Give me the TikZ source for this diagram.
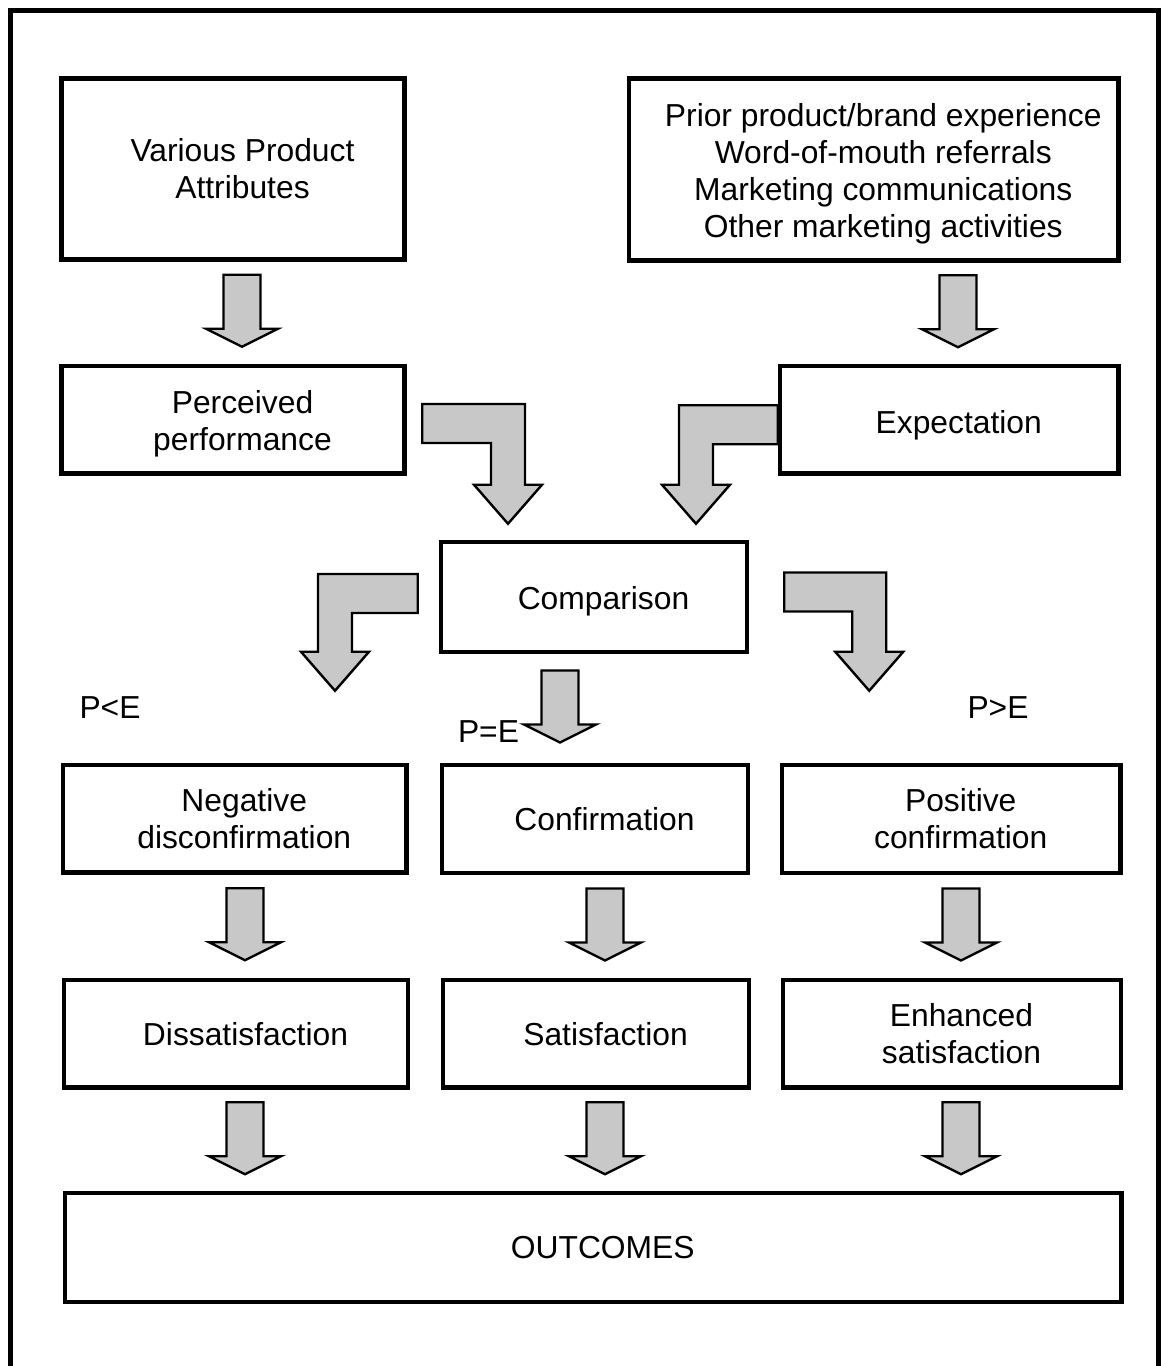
\documentclass[tikz,border=0pt]{standalone}
\usepackage{fontspec}
\setmainfont{Liberation Sans}
\usetikzlibrary{calc}

\definecolor{arrowgray}{RGB}{200,200,200}

\tikzset{
  box/.style={draw, rectangle, line width=4.5pt, inner sep=0pt},
  boxtext/.style={align=center, xshift=9.5pt, inner sep=0pt,
                  font=\fontsize{31.8}{37}\selectfont},
  % text whose last line has descenders sits a little lower
  lowtext/.style={boxtext, yshift=-4pt},
  blockarrow/.style={draw, fill=arrowgray, line width=2.4pt, line join=miter},
  relation/.style={anchor=base, inner sep=0pt, font=\fontsize{31.8}{37}\selectfont},
  frame/.style={line width=5pt}
}

% straight block arrow centred in the gap between two stacked boxes
% #1 upper node, #2 lower node, #3 x position of the shaft
\newcommand\flowdown[3]{%
  \draw[blockarrow] let \p1=(#1.south), \p2=(#2.north),
        \n1={0.5*\y1+0.5*\y2+2} in
    (#3-18.5,\n1+36) -- (#3+18.5,\n1+36) -- (#3+18.5,\n1-18) --
    (#3+36,\n1-18) -- (#3,\n1-36) -- (#3-36,\n1-18) --
    (#3-18.5,\n1-18) -- cycle;}

% L-shaped block arrow: horizontal bar from the tail, then down to the tip
% #1 tail point, #2 tip point, #3 = 1 if the bar runs rightwards, -1 if leftwards
\newcommand\bentarrow[3]{%
  \draw[blockarrow] let \p1=(#1), \p2=(#2) in
    (\x1,{\y1+19.5}) -- ({\x2+(#3)*17},{\y1+19.5}) --
    ({\x2+(#3)*17},{\y2+39}) -- ({\x2+(#3)*34},{\y2+39}) --
    (\x2,\y2) --
    ({\x2-(#3)*34},{\y2+39}) -- ({\x2-(#3)*17},{\y2+39}) --
    ({\x2-(#3)*17},{\y1-19.5}) -- (\x1,{\y1-19.5}) -- cycle;}

\begin{document}
\begin{tikzpicture}[x=1pt,y=1pt]
\useasboundingbox (0,0) rectangle (1162,-1366);

% outer frame (open at the foot of the page)
\draw[frame] (10,-1380) -- (10,-10) -- (1158,-10) -- (1158,-1380);

% boxes
\node[box, minimum width=343pt, minimum height=181pt,
      label={[boxtext]center:{Various Product\\Attributes}}] (attr) at (233,-169) {};
\node[box, minimum width=489.5pt, minimum height=182pt,
      label={[lowtext]center:{Prior product/brand experience\\Word-of-mouth referrals\\Marketing communications\\Other marketing activities}}] (prior) at (873.75,-169.5) {};
\node[box, minimum width=343pt, minimum height=107.5pt,
      label={[lowtext]center:{Perceived\\performance}}] (perc) at (233,-419.75) {};
\node[box, minimum width=338.5pt, minimum height=107.5pt,
      label={[lowtext, yshift=-1.5pt]center:{Expectation}}] (expect) at (949.25,-419.75) {};
\node[box, minimum width=306pt, minimum height=110pt,
      label={[lowtext]center:{Comparison}}] (comp) at (594,-597) {};
\node[box, minimum width=343.5pt, minimum height=107.5pt,
      label={[boxtext]center:{Negative\\disconfirmation}}] (neg) at (234.75,-818.75) {};
\node[box, minimum width=306pt, minimum height=108pt,
      label={[boxtext]center:{Confirmation}}] (conf) at (595,-819) {};
\node[box, minimum width=338.5pt, minimum height=108pt,
      label={[boxtext]center:{Positive\\confirmation}}] (pos) at (951.25,-819) {};
\node[box, minimum width=344pt, minimum height=107.5pt,
      label={[boxtext]center:{Dissatisfaction}}] (dis) at (236,-1033.75) {};
\node[box, minimum width=306pt, minimum height=107.5pt,
      label={[boxtext]center:{Satisfaction}}] (sat) at (596,-1033.75) {};
\node[box, minimum width=338pt, minimum height=107.5pt,
      label={[boxtext]center:{Enhanced\\satisfaction}}] (enh) at (952,-1033.75) {};
\node[box, minimum width=1056.5pt, minimum height=109pt,
      label={[boxtext]center:{OUTCOMES}}] (out) at (593.25,-1247.5) {};

% relation labels
\node[relation] (pless) at (110,-718) {P<E};
\node[relation] (pequal) at (488.5,-742) {P=E};
\node[relation] (pmore) at (998,-718) {P>E};

% straight arrows
\flowdown{attr}{perc}{242}
\flowdown{prior}{expect}{958}
\flowdown{comp}{conf}{560}
\flowdown{neg}{dis}{245}
\flowdown{conf}{sat}{605}
\flowdown{pos}{enh}{961}
\flowdown{dis}{out}{245}
\flowdown{sat}{out}{605}
\flowdown{enh}{out}{961}

% bent arrows into and out of the comparison
\bentarrow{$(perc.east)+(15.5,-3.75)$}{$(comp.north)+(-86,16)$}{1}
\bentarrow{$(expect.west)+(0,-5)$}{$(comp.north)+(102,16)$}{-1}
\bentarrow{$(comp.west)+(-21,3.5)$}{$(neg.north)+(100.25,72)$}{-1}
\bentarrow{$(comp.east)+(35,5)$}{$(pos.north)+(-82,72)$}{1}
\end{tikzpicture}
\end{document}
